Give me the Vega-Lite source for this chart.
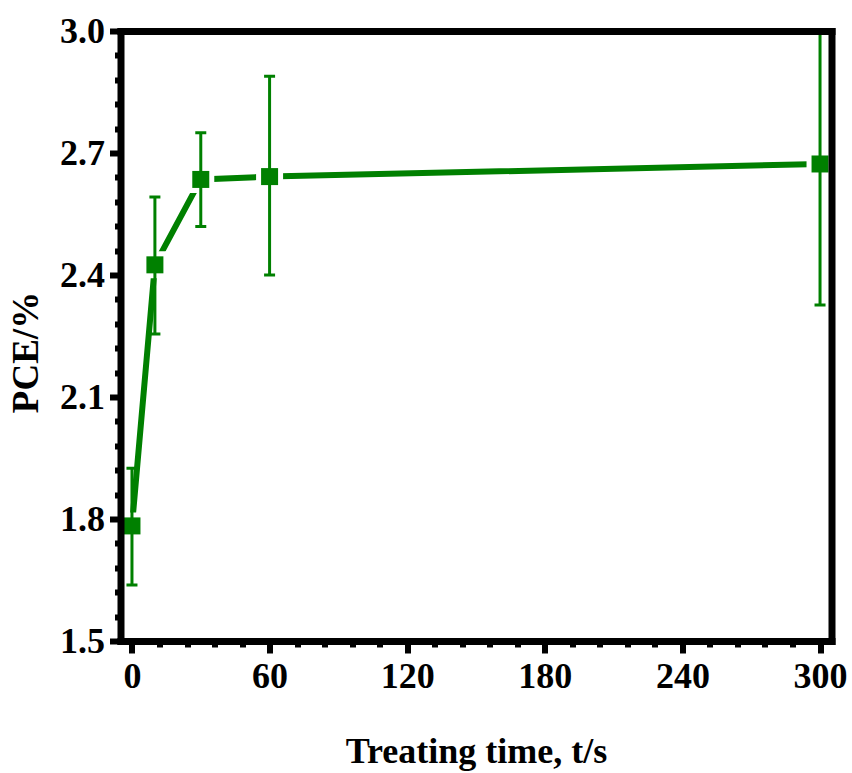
{
  "$schema": "https://vega.github.io/schema/vega-lite/v6.json",
  "width": 711,
  "height": 610,
  "autosize": {"type": "none"},
  "padding": {"left": 120.5, "top": 31, "right": 20.5, "bottom": 132},
  "background": "white",
  "config": {"view": {"stroke": null}, "font": "Liberation Serif"},
  "data": {
    "values": [
      {"t": 0, "pce": 1.783, "lo": 1.638, "hi": 1.925},
      {"t": 10, "pce": 2.425, "lo": 2.255, "hi": 2.592},
      {"t": 30, "pce": 2.635, "lo": 2.519, "hi": 2.75},
      {"t": 60, "pce": 2.642, "lo": 2.4, "hi": 2.889},
      {"t": 300, "pce": 2.673, "lo": 2.326, "hi": 3.1}
    ]
  },
  "layer": [
    {
      "mark": {"type": "line", "color": "#008000", "strokeWidth": 6},
      "encoding": {
        "x": {
          "field": "t", "type": "quantitative",
          "scale": {"domain": [-5, 305], "nice": false, "zero": false},
          "axis": {
            "orient": "bottom",
            "values": [0, 12, 24, 36, 48, 60, 72, 84, 96, 108, 120, 132, 144, 156, 168, 180, 192, 204, 216, 228, 240, 252, 264, 276, 288, 300],
            "labelExpr": "datum.value % 60 == 0 ? datum.label : ''",
            "tickSize": {"condition": {"test": "datum.value % 60 == 0", "value": 12}, "value": 6},
            "tickWidth": 6,
            "tickColor": "black",
            "domainColor": "black",
            "domainWidth": 7,
            "domainCap": "square",
            "grid": false,
            "labelFont": "Liberation Serif",
            "labelFontWeight": "bold",
            "labelFontSize": 36,
            "labelColor": "black",
            "labelPadding": 6,
            "labelOverlap": false,
            "labelFlush": false,
            "title": "Treating time, t/s",
            "titleFont": "Liberation Serif",
            "titleFontWeight": "bold",
            "titleFontSize": 36,
            "titleColor": "black",
            "titleX": 355.5,
            "titleY": 110,
            "titleAlign": "center",
            "titleBaseline": "middle",
            "zindex": 1
          }
        },
        "y": {
          "field": "pce", "type": "quantitative",
          "scale": {"domain": [1.5, 3.0], "nice": false, "zero": false},
          "axis": {
            "orient": "left",
            "values": [1.5, 1.56, 1.62, 1.68, 1.74, 1.8, 1.86, 1.92, 1.98, 2.04, 2.1, 2.16, 2.22, 2.28, 2.34, 2.4, 2.46, 2.52, 2.58, 2.64, 2.7, 2.76, 2.82, 2.88, 2.94, 3.0],
            "format": ".1f",
            "labelExpr": "abs(datum.value*10/3 - round(datum.value*10/3)) < 0.01 ? datum.label : ''",
            "tickSize": {"condition": {"test": "abs(datum.value*10/3 - round(datum.value*10/3)) < 0.01", "value": 11}, "value": 6},
            "tickWidth": 6,
            "tickColor": "black",
            "domainColor": "black",
            "domainWidth": 7,
            "domainCap": "square",
            "grid": false,
            "labelFont": "Liberation Serif",
            "labelFontWeight": "bold",
            "labelFontSize": 36,
            "labelColor": "black",
            "labelPadding": 5,
            "labelOverlap": false,
            "labelFlush": false,
            "title": "PCE/%",
            "titleFont": "Liberation Serif",
            "titleFontWeight": "bold",
            "titleFontSize": 37,
            "titleColor": "black",
            "titleX": -94.5,
            "titleY": 321,
            "titleAlign": "center",
            "titleBaseline": "middle",
            "zindex": 1
          }
        }
      }
    },
    {
      "mark": {"type": "square", "size": 729, "color": "white", "opacity": 1, "clip": true},
      "encoding": {
        "x": {"field": "t", "type": "quantitative", "axis": null},
        "y": {"field": "pce", "type": "quantitative", "axis": null}
      }
    },
    {
      "mark": {"type": "rule", "color": "#008000", "strokeWidth": 3, "clip": true},
      "encoding": {
        "x": {"field": "t", "type": "quantitative", "axis": null},
        "y": {"field": "lo", "type": "quantitative", "axis": null},
        "y2": {"field": "hi"}
      }
    },
    {
      "mark": {"type": "tick", "orient": "horizontal", "size": 11, "thickness": 3, "color": "#008000", "opacity": 1, "clip": true},
      "encoding": {
        "x": {"field": "t", "type": "quantitative", "axis": null},
        "y": {"field": "lo", "type": "quantitative", "axis": null}
      }
    },
    {
      "mark": {"type": "tick", "orient": "horizontal", "size": 11, "thickness": 3, "color": "#008000", "opacity": 1, "clip": true},
      "encoding": {
        "x": {"field": "t", "type": "quantitative", "axis": null},
        "y": {"field": "hi", "type": "quantitative", "axis": null}
      }
    },
    {
      "mark": {"type": "square", "size": 289, "color": "#008000", "opacity": 1},
      "encoding": {
        "x": {"field": "t", "type": "quantitative", "axis": null},
        "y": {"field": "pce", "type": "quantitative", "axis": null}
      }
    },
    {
      "mark": {"type": "point", "opacity": 0},
      "encoding": {
        "x": {"field": "t", "type": "quantitative", "axis": {"orient": "top", "ticks": false, "labels": false, "title": null, "grid": false, "domainColor": "black", "domainWidth": 7, "domainCap": "square", "zindex": 1}},
        "y": {"field": "pce", "type": "quantitative", "axis": {"orient": "right", "ticks": false, "labels": false, "title": null, "grid": false, "domainColor": "black", "domainWidth": 7, "domainCap": "square", "zindex": 1}}
      }
    }
  ],
  "resolve": {"axis": {"x": "independent", "y": "independent"}}
}
